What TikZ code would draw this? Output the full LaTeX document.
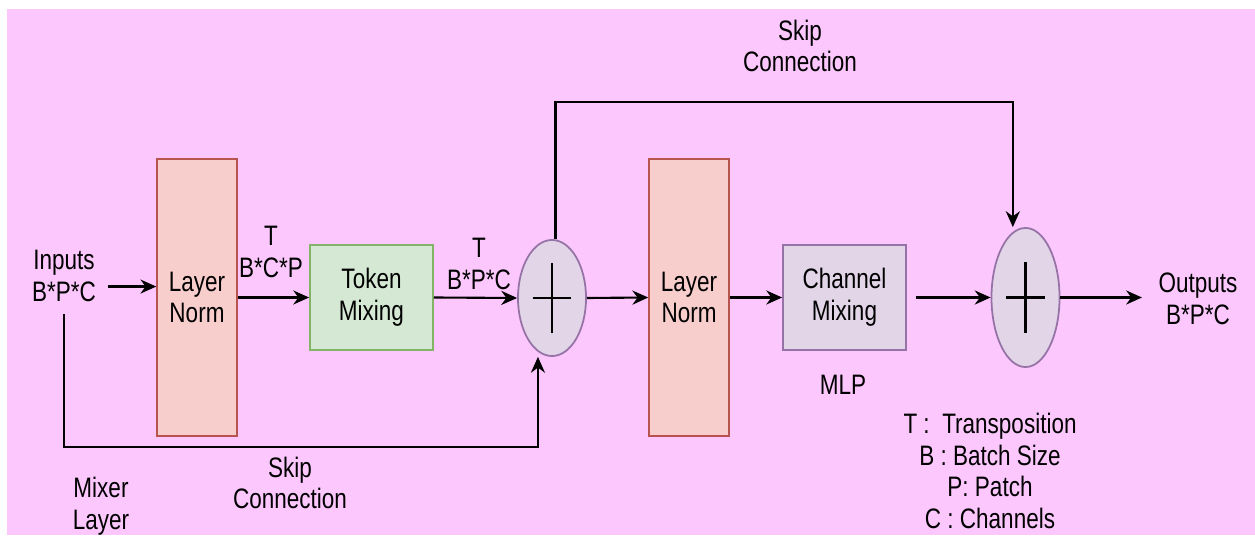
\documentclass[tikz,border=0pt]{standalone}
\usepackage{fontspec}
\setmainfont{Liberation Sans}[FakeStretch=0.8]
\usepackage{tikz}
\usetikzlibrary{shapes.geometric, arrows.meta, positioning}

\definecolor{pinkbg}{RGB}{252,199,252}
\definecolor{normfill}{HTML}{F8CECC}
\definecolor{normdraw}{HTML}{B85450}
\definecolor{tokenfill}{HTML}{D5E8D4}
\definecolor{tokendraw}{HTML}{82B366}
\definecolor{mixfill}{HTML}{E1D5E7}
\definecolor{mixdraw}{HTML}{9673A6}

\begin{document}
\begin{tikzpicture}[
  x=0.01cm, y=-0.01cm,
  font=\fontsize{8}{9}\selectfont,
  normbox/.style={
    rectangle, draw=normdraw, fill=normfill, line width=0.5pt,
    minimum width=0.76cm, minimum height=2.77cm,
    align=center
  },
  mixbox/.style={
    rectangle, line width=0.5pt,
    minimum width=1.23cm, minimum height=1.05cm,
    align=center
  },
  addnode/.style={
    ellipse, draw=mixdraw, fill=mixfill, line width=0.5pt,
    minimum width=0.68cm, inner sep=0pt
  },
  arrow/.style={-{Stealth[length=4.5pt, width=4pt]}, line width=0.6pt},
  plus/.style={line width=0.6pt},
  label/.style={align=center}
]

% Fondo
\useasboundingbox (0,0) rectangle (1255,537);
\fill[white] (0,0) rectangle (1255,537);
\fill[pinkbg] (7,9) rectangle (1255,535);

% Token mixing
\node[normbox] (ln1) at (197,297.5) {Layer\\Norm};
\node[mixbox, draw=tokendraw, fill=tokenfill] (token) at (371.5,297.5) {Token\\Mixing};
\node[addnode, minimum height=1.16cm] (add1) at (552,298) {};

% Channel mixing
\node[normbox] (ln2) at (689,297.5) {Layer\\Norm};
\node[mixbox, draw=mixdraw, fill=mixfill] (chan) at (844.5,297.5) {Channel\\Mixing};
\node[addnode, minimum height=1.39cm] (add2) at (1025.5,297.5) {};

% Signos +
\draw[plus] ([xshift=-5.5pt]add1.center) -- ([xshift=5.5pt]add1.center);
\draw[plus] ([yshift=-10pt]add1.center) -- ([yshift=10pt]add1.center);
\draw[plus] ([xshift=-5.5pt]add2.center) -- ([xshift=5.5pt]add2.center);
\draw[plus] ([yshift=-10pt]add2.center) -- ([yshift=10pt]add2.center);

% Textos
\node[label] (inputs) at (64,276) {Inputs\\B*P*C};
\node[label] (outputs) at (1198,299) {Outputs\\B*P*C};
\node[label] (t1) at (271,252) {T\\B*C*P};
\node[label] (t2) at (479,264) {T\\B*P*C};
\node[label] (mlp) at (843,385) {MLP};
\node[label] (skiptop) at (800,46) {Skip\\Connection};
\node[label] (skipbot) at (290,483) {Skip\\Connection};
\node[label] (mixer) at (101,506) {Mixer\\Layer};
\node[label] (legend) at (990,471) {T :~~Transposition\\B : Batch Size\\P: Patch\\C : Channels};

% Flechas principales
\draw[arrow] ([yshift=-3pt]inputs.east) -- ([yshift=-3pt]inputs.east -| ln1.west);
\draw[arrow] (ln1.east) -- (token.west);
\draw[arrow] (token.east) -- (add1.west);
\draw[arrow] (add1.east) -- (ln2.west);
\draw[arrow] (ln2.east) -- (chan.west);
\draw[arrow, shorten <=2.5pt] (chan.east) -- (add2.west);
\draw[arrow, shorten >=1.2pt] (add2.east) -- (add2.east -| outputs.west);

% Conexiones residuales
\coordinate (bot) at (0,447);
\coordinate (top) at (0,102);
\draw[arrow] (inputs.south) -- (inputs.south |- bot) -| ([xshift=-4pt]add1.south);
\draw[arrow] ([xshift=1pt]add1.north) -- ([xshift=1pt]add1.north |- top) -| ([xshift=-3.6pt]add2.north);

\end{tikzpicture}
\end{document}
